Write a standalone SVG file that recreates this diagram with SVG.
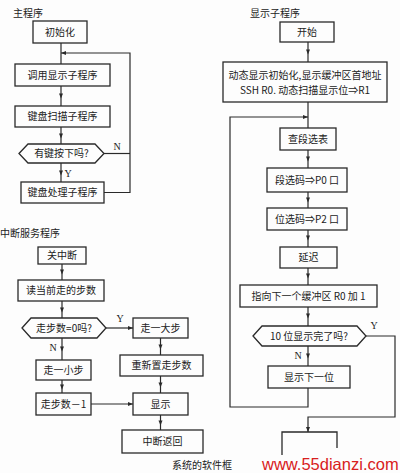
<svg xmlns="http://www.w3.org/2000/svg" width="400" height="473" viewBox="0 0 400 473">
<defs>
<style>
.b{fill:none;stroke:#2a2a2a;stroke-width:1.3}
.t{font-family:"Noto Sans CJK SC","Liberation Serif",serif;font-size:10px;fill:#222;text-anchor:middle}
.h{font-family:"Noto Sans CJK SC","Liberation Serif",serif;font-size:10px;fill:#222}
.l{font-family:"Liberation Serif",serif;font-size:10px;fill:#222;text-anchor:middle}
.c{fill:none;stroke:#2a2a2a;stroke-width:1.2}
.cm{fill:none;stroke:#2a2a2a;stroke-width:1.2;marker-mid:url(#m)}
.ce{fill:none;stroke:#2a2a2a;stroke-width:1.2;marker-end:url(#e)}
</style>
<marker id="m" viewBox="0 0 10 10" refX="5" refY="5" markerWidth="6" markerHeight="5" orient="auto" markerUnits="userSpaceOnUse"><path d="M0,1 L10,5 L0,9 z" fill="#2a2a2a"/></marker>
<marker id="e" viewBox="0 0 10 10" refX="10" refY="5" markerWidth="6" markerHeight="5" orient="auto" markerUnits="userSpaceOnUse"><path d="M0,1 L10,5 L0,9 z" fill="#2a2a2a"/></marker>
</defs>
<rect width="400" height="473" fill="#fdfdfd"/>

<text class="h" x="13" y="17">主程序</text>
<text class="h" x="0" y="237">中断服务程序</text>
<text class="h" x="250" y="17">显示子程序</text>

<g id="connectors">
<path class="c" d="M61,43 V64"/>
<path class="cm" d="M61,86 V96 V106"/>
<path class="cm" d="M61,127 V136 V144"/>
<path class="cm" d="M61,163 V173 V182"/>
<path class="c" d="M104,153.5 H130"/>
<path class="ce" d="M104,192.5 H130 V53 H61"/>
<text class="l" x="117" y="150">N</text>
<text class="l" x="68" y="177">Y</text>

<path class="cm" d="M62,264 V272 V280"/>
<path class="cm" d="M62,301 V310 V318"/>
<path class="cm" d="M62,338 V349 V360"/>
<path class="cm" d="M62,380 V387 V393"/>
<path class="ce" d="M106,328 H133"/>
<path class="cm" d="M160.5,338 V347 V355"/>
<path class="cm" d="M160.5,376 V385 V393"/>
<path class="cm" d="M160.5,415 V423 V430"/>
<path class="ce" d="M91,404 H133"/>
<text class="l" x="53" y="351">N</text>
<text class="l" x="120" y="322">Y</text>

<path class="cm" d="M308,42 V52 V62"/>
<path class="c" d="M308,102 V128"/>
<path class="ce" d="M308,388 V407 H230 V117 H308"/>
<path class="cm" d="M308,150 V159 V168"/>
<path class="cm" d="M308,192 V200 V208"/>
<path class="cm" d="M308,230 V238 V247"/>
<path class="cm" d="M308,268 V276 V285"/>
<path class="cm" d="M308,307 V316 V326"/>
<path class="cm" d="M308,346 V356 V366"/>
<path class="ce" d="M366,336 H395 V417 H308 V432"/>
<text class="l" x="298" y="359">N</text>
<text class="l" x="374" y="329">Y</text>
</g>

<g id="n_init"><rect class="b" x="33" y="21" width="54" height="22"/><text class="t" x="60" y="35.5">初始化</text></g>
<g id="n_call"><rect class="b" x="15" y="64" width="95" height="22"/><text class="t" x="62.5" y="78.5">调用显示子程序</text></g>
<g id="n_scan"><rect class="b" x="15" y="106" width="95" height="21"/><text class="t" x="62.5" y="120">键盘扫描子程序</text></g>
<g id="n_key"><polygon class="b" points="19,153.5 28,144 95,144 104,153.5 95,163 28,163"/><text class="t" x="61.5" y="157">有键按下吗?</text></g>
<g id="n_proc"><rect class="b" x="21" y="182" width="83" height="21"/><text class="t" x="62.5" y="196">键盘处理子程序</text></g>

<g id="n_guan"><rect class="b" x="38" y="247" width="48" height="17"/><text class="t" x="62" y="259">关中断</text></g>
<g id="n_read"><rect class="b" x="18" y="280" width="86" height="21"/><text class="t" x="61" y="294">读当前走的步数</text></g>
<g id="n_zero"><polygon class="b" points="22,328 31,318 97,318 106,328 97,338 31,338"/><text class="t" x="64" y="331.5">走步数=0吗?</text></g>
<g id="n_big"><rect class="b" x="133" y="318" width="55" height="20"/><text class="t" x="160.5" y="331.5">走一大步</text></g>
<g id="n_reset"><rect class="b" x="120" y="355" width="83" height="21"/><text class="t" x="161.5" y="369">重新置走步数</text></g>
<g id="n_show"><rect class="b" x="133" y="393" width="55" height="22"/><text class="t" x="160.5" y="407.5">显示</text></g>
<g id="n_ret"><rect class="b" x="122" y="430" width="81" height="23"/><text class="t" x="162.5" y="445">中断返回</text></g>
<g id="n_small"><rect class="b" x="36" y="360" width="55" height="20"/><text class="t" x="63.5" y="373.5">走一小步</text></g>
<g id="n_dec"><rect class="b" x="36" y="393" width="55" height="22"/><text class="t" x="63.5" y="407.5">走步数－1</text></g>

<g id="n_start"><rect class="b" x="280" y="22" width="54" height="20"/><text class="t" x="307" y="35.5">开始</text></g>
<g id="n_initd"><rect class="b" x="223" y="62" width="164" height="40"/><text class="t" x="305" y="79">动态显示初始化,显示缓冲区首地址</text><text class="t" x="305" y="94">SSH R0. 动态扫描显示位⇒R1</text></g>
<g id="n_lookup"><rect class="b" x="280" y="128" width="56" height="22"/><text class="t" x="308" y="142.5">查段选表</text></g>
<g id="n_seg"><rect class="b" x="267" y="168" width="80" height="24"/><text class="t" x="307" y="183.5">段选码⇒P0 口</text></g>
<g id="n_pos"><rect class="b" x="267" y="208" width="80" height="22"/><text class="t" x="307" y="222.5">位选码⇒P2 口</text></g>
<g id="n_delay"><rect class="b" x="280" y="247" width="57" height="21"/><text class="t" x="308.5" y="261">延迟</text></g>
<g id="n_next"><rect class="b" x="240" y="285" width="137" height="22"/><text class="t" x="308.5" y="299.5">指向下一个缓冲区 R0 加 1</text></g>
<g id="n_done"><polygon class="b" points="253,336 262,326 357,326 366,336 357,346 262,346"/><text class="t" x="309" y="339.5">10 位显示完了吗?</text></g>
<g id="n_nextbit"><rect class="b" x="268" y="366" width="82" height="22"/><text class="t" x="309" y="380.5">显示下一位</text></g>
<g id="n_end"><path class="b" d="M282,455 V432 H337 V448"/></g>

<text class="h" x="172" y="469" font-size="11">系统的软件框</text>
<text x="262" y="470" font-family="Liberation Sans, Arial, sans-serif" font-size="16.5" fill="#d82020">www.55dianzi.com</text>
</svg>
